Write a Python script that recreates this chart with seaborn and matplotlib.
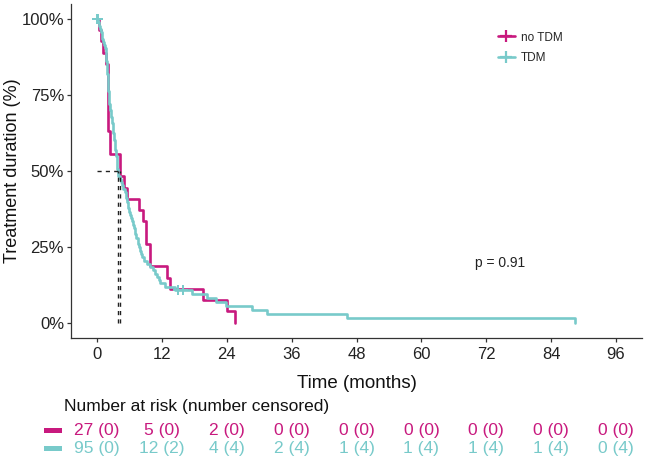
import numpy as np
import pandas as pd
import matplotlib
matplotlib.use("Agg")
import matplotlib.pyplot as plt
import matplotlib.transforms as mtransforms
import seaborn as sns
from matplotlib.lines import Line2D
from matplotlib.patches import Rectangle

# ---------------- data ----------------
groups = ["no TDM", "TDM"]
colors = ["#C8197E", "#78CACA"]

notdm_event_times = [0.4, 0.8, 1.2, 1.6, 2.0, 2.0, 2.0, 2.0, 2.0, 2.0, 2.4, 2.4,
                     4.25, 4.25, 5.0, 5.6, 7.8, 8.6, 9.1, 9.1, 9.8, 9.8,
                     12.9, 13.6, 19.6, 24.1, 25.5]
notdm_censor_times = []

tdm_event_times = [0.2, 0.4, 0.5, 0.7, 0.9, 1.0, 1.2, 1.3, 1.5,
                   1.6, 1.6, 1.7, 1.7, 1.8, 1.8, 1.9, 1.9, 2.0, 2.0, 2.0, 2.1, 2.1,
                   2.2, 2.2, 2.3, 2.3, 2.4,
                   2.5, 2.6, 2.6, 2.7, 2.8, 2.9, 3.0, 3.0, 3.1, 3.2, 3.3, 3.3, 3.4, 3.5, 3.6,
                   3.65, 3.7, 3.7, 3.75, 3.8, 3.8, 4.2,
                   4.4, 4.7, 4.9, 5.1,
                   5.3, 5.4, 5.6, 5.7, 5.8, 6.0, 6.1,
                   6.3, 6.5, 6.7, 6.8, 7.0, 7.1, 7.3,
                   7.5, 7.6, 7.8, 8.0, 8.1, 8.3,
                   8.7, 9.2, 9.8, 10.4,
                   10.8, 11.1, 11.4, 11.6,
                   12.5, 14.5, 17.5, 20.3, 22.0, 23.9,
                   28.6, 31.4, 46.2, 88.4]
tdm_censor_times = [0.1, 0.15, 15.0, 15.9]

risk_times = [0, 12, 24, 36, 48, 60, 72, 84, 96]
notdm_at_risk = [27, 5, 2, 0, 0, 0, 0, 0, 0]
notdm_censored = [0, 0, 0, 0, 0, 0, 0, 0, 0]
tdm_at_risk = [95, 12, 4, 2, 1, 1, 1, 1, 0]
tdm_censored = [0, 2, 4, 4, 4, 4, 4, 4, 4]

y_ticks = [0, 0.25, 0.5, 0.75, 1.0]
y_ticklabels = ["0%", "25%", "50%", "75%", "100%"]
p_text = "p = 0.91"


def km(events, censors):
    times = sorted(set(events) | set(censors))
    n = len(events) + len(censors)
    s = 1.0
    rows = [(0.0, 1.0)]
    cens = []
    for t in times:
        d = events.count(t)
        c = censors.count(t)
        if d:
            s *= (n - d) / n
            rows.append((t, s))
        if c:
            cens.append((t, s))
        n -= d + c
    return rows, cens


curves = {}
cens_pts = {}
for g, ev, ce in [("no TDM", notdm_event_times, notdm_censor_times),
                  ("TDM", tdm_event_times, tdm_censor_times)]:
    r, c = km(ev, ce)
    curves[g] = r
    cens_pts[g] = c

df = pd.concat([pd.DataFrame(curves[g], columns=["time", "surv"]).assign(group=g)
                for g in groups], ignore_index=True)
cdf = pd.concat([pd.DataFrame(cens_pts[g], columns=["time", "surv"]).assign(group=g)
                 for g in groups if cens_pts[g]], ignore_index=True)

medians = []
for g in groups:
    for t, s in curves[g]:
        if s <= 0.5:
            medians.append(t)
            break

# ---------------- figure ----------------
sns.set_theme(style="ticks")
plt.rcParams["font.family"] = ["Liberation Sans", "DejaVu Sans"]

W, H = 645, 462
fig = plt.figure(figsize=(W / 100, H / 100), dpi=100)
ax = fig.add_axes([71 / W, 1 - 337.7 / H, (642 - 71) / W, (337.7 - 3.8) / H])

palette = dict(zip(groups, colors))
sns.lineplot(data=df, x="time", y="surv", hue="group", palette=palette,
             drawstyle="steps-post", estimator=None, sort=False,
             linewidth=1.9, legend=False, ax=ax)
sns.scatterplot(data=cdf, x="time", y="surv", hue="group", palette=palette,
                marker="+", s=60, linewidth=1.4, legend=False, ax=ax, zorder=4)

# median lines
ax.plot([0, max(medians)], [0.5, 0.5], ls=(0, (3, 3)), color="#222222", lw=1.0)
for m in medians:
    ax.plot([m, m], [0, 0.5], ls=(0, (3, 3)), color="#222222", lw=1.0)

ax.set_xlim(-4.8, 100.8)
ax.set_ylim(-0.05, 1.05)
ax.set_xticks(risk_times)
ax.set_xticklabels([str(t) for t in risk_times])
ax.set_yticks(y_ticks)
ax.set_yticklabels(y_ticklabels)
ax.tick_params(axis="both", labelsize=12, length=3, width=0.9, color="#333333",
               labelcolor="#222222")
ax.tick_params(axis="x", pad=4)
ax.tick_params(axis="y", pad=2)
for sp in ["top", "right"]:
    ax.spines[sp].set_visible(False)
for sp in ["left", "bottom"]:
    ax.spines[sp].set_color("#333333")
    ax.spines[sp].set_linewidth(0.9)

ax.set_xlabel("Time (months)", fontsize=13.5, labelpad=9, color="#111111")
ax.set_ylabel("Treatment duration (%)", fontsize=13, color="#111111")
ax.yaxis.set_label_coords((21 - 71) / (642 - 71), 0.5)

ax.text(74.5, 0.195, p_text, fontsize=10, ha="center", va="center", color="#222222")

handles = [Line2D([], [], color=c, lw=1.9, marker="+", markersize=8, mew=1.6)
           for c in colors]
ax.legend(handles, groups, loc="center left",
          bbox_to_anchor=(487 / W, 1 - 48 / H), bbox_transform=fig.transFigure,
          frameon=False, fontsize=8.5, handlelength=1.5, labelspacing=0.75,
          handletextpad=0.5)

# ---------------- risk table ----------------
fig.text(64 / W, 1 - 407 / H, "Number at risk (number censored)", fontsize=12.5,
         ha="left", va="center", color="#111111")
blend = mtransforms.blended_transform_factory(ax.transData, fig.transFigure)
row_y = [430, 448]
for gi, (ar, cs) in enumerate([(notdm_at_risk, notdm_censored),
                               (tdm_at_risk, tdm_censored)]):
    y = 1 - row_y[gi] / H
    fig.add_artist(Rectangle((44 / W, y - 2.5 / H), 18 / W, 5 / H,
                             transform=fig.transFigure, color=colors[gi], lw=0))
    for i, t in enumerate(risk_times):
        fig.text(t, y, f"{ar[i]} ({cs[i]})", fontsize=12.5, transform=blend,
                 ha="center", va="center", color=colors[gi])

fig.savefig("out.png", dpi=100)
